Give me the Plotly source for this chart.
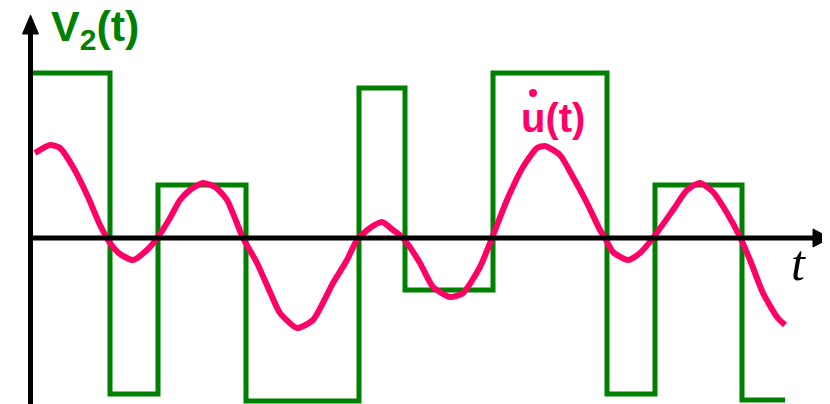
import plotly.graph_objects as go

# square wave V2(t): edge times and the level held after each edge
v2_edges = [0, 77, 125, 213, 326, 372, 460, 574, 622, 709, 752]
v2_levels = [165, -156, 53, -163, 150, -52, 165, -156, 53, -162, -162]

# smooth response u(t)
u_t = [2, 17, 27, 40, 55, 67, 77, 87, 100, 114, 125, 137, 147, 157, 170, 182,
       194, 210, 224, 237, 247, 264, 280, 300, 314, 324, 337, 349, 360, 370,
       387, 400, 417, 430, 447, 459, 474, 490, 504, 512, 527, 540, 554, 567,
       572, 580, 595, 607, 620, 640, 654, 667, 680, 694, 707, 717, 730, 744, 752]
u_vals = [85, 93, 90, 71, 41, 13, -5, -16, -22, -12, 1, 20, 38, 48, 55, 51,
          38, 0, -25, -54, -75, -90, -82, -45, -22, -2, 10, 16, 8, 0,
          -25, -49, -59, -55, -29, 0, 38, 71, 90, 92, 83, 61, 35, 8,
          0, -14, -22, -15, 0, 28, 48, 55, 46, 25, 1, -22, -55, -79, -87]

GREEN = "#008000"
PINK = "#ff0066"

fig = go.Figure()
fig.add_trace(go.Scatter(x=v2_edges, y=v2_levels, mode="lines",
                         line=dict(color=GREEN, width=5, shape="hv"),
                         hoverinfo="skip"))
fig.add_trace(go.Scatter(x=u_t, y=u_vals, mode="lines",
                         line=dict(color=PINK, width=6, shape="spline", smoothing=0.6),
                         hoverinfo="skip"))

# axes with arrow heads
shapes = [
    dict(type="line", x0=-2.5, x1=-2.5, y0=-180, y1=208, line=dict(color="black", width=5)),
    dict(type="path", path="M -2.5,223 L -10.5,204 L 5.5,204 Z",
         fillcolor="black", line=dict(color="black", width=1)),
    dict(type="line", x0=-5, x1=782, y0=0, y1=0, line=dict(color="black", width=5)),
    dict(type="path", path="M 797,0 L 780,9 L 780,-9 Z",
         fillcolor="black", line=dict(color="black", width=1)),
    dict(type="circle", x0=496, x1=504, y0=141, y1=149,
         fillcolor=PINK, line=dict(color=PINK, width=0)),
]

annotations = [
    dict(x=16, y=209, text="<b>V<sub>2</sub>(t)</b>", showarrow=False,
         xanchor="left", yanchor="middle",
         font=dict(family="Liberation Sans", size=43, color=GREEN)),
    dict(x=486, y=120, text="<b>u(t)</b>", showarrow=False,
         xanchor="left", yanchor="middle",
         font=dict(family="Liberation Sans", size=40, color=PINK)),
    dict(x=765, y=-25, text="<i>t</i>", showarrow=False,
         xanchor="center", yanchor="middle",
         font=dict(family="Liberation Serif", size=50, color="black")),
]

# the page draws the figure 8px in from the top-left corner, so the ranges
# are shifted by that much to keep the drawing where the reference has it
fig.update_layout(
    width=830, height=404,
    margin=dict(l=0, r=0, t=0, b=0),
    paper_bgcolor="white", plot_bgcolor="white",
    showlegend=False,
    shapes=shapes, annotations=annotations,
    xaxis=dict(range=[-25, 805], visible=False),
    yaxis=dict(range=[-174, 230], visible=False),
)

fig.write_html("out.html")
